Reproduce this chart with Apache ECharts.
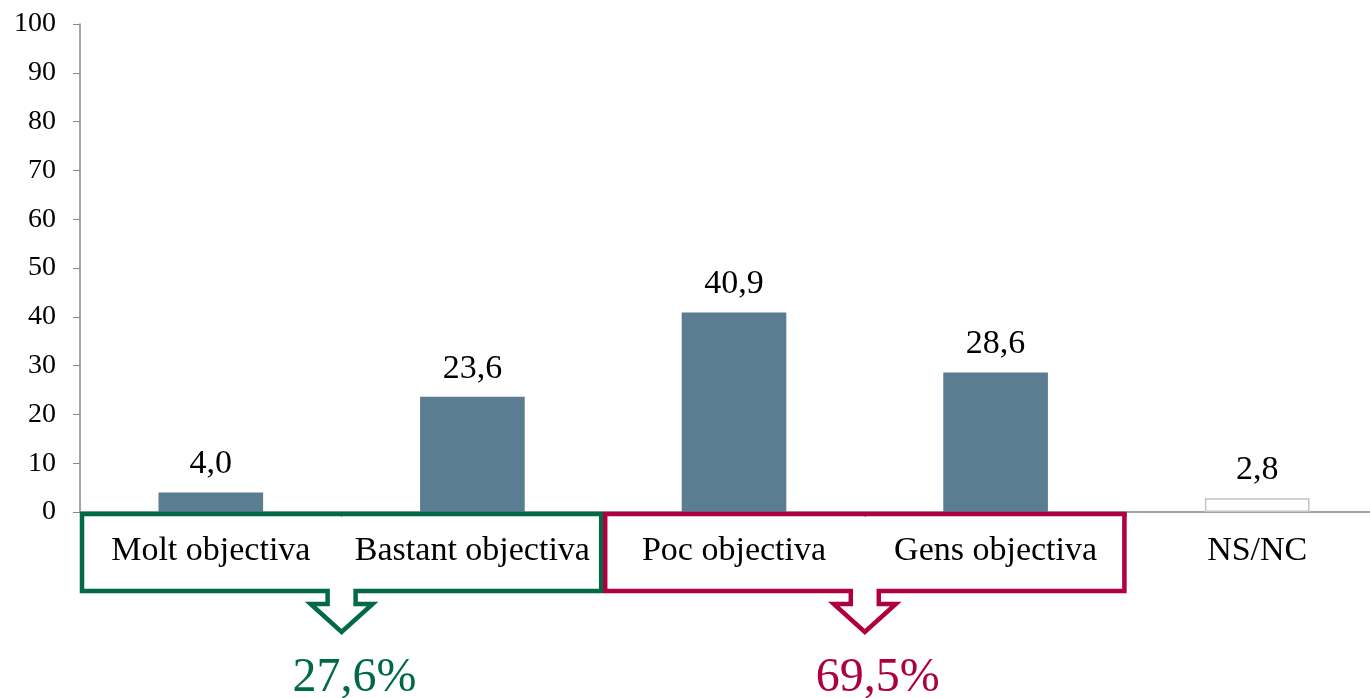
<!DOCTYPE html>
<html>
<head>
<meta charset="utf-8">
<script src="https://cdn.jsdelivr.net/npm/echarts@6/dist/echarts.min.js"></script>
<style>
  html, body { margin: 0; padding: 0; background: #fff; }
  #chart { width: 1370px; height: 698px; }
</style>
</head>
<body>
<div id="chart"></div>
<script>
const categories = ['Molt objectiva', 'Bastant objectiva', 'Poc objectiva', 'Gens objectiva', 'NS/NC']
const values = [4.0, 23.6, 40.9, 28.6, 2.8]
// summary boxes: first and last category index, label
const groupLabels = ['27,6%', '69,5%']
const groupFrom = [0, 2]
const groupTo = [1, 3]
const groupColors = ['#006a45', '#ae0040']

const FONT = 'Liberation Serif'
const barColor = '#5b7d91'

const chart = echarts.init(document.getElementById('chart'))

const barData = values.map((v, i) => {
  if (categories[i] === 'NS/NC') {
    return { value: v, itemStyle: { color: '#fff', borderColor: '#c4c4c4', borderWidth: 1.5 } }
  }
  return v
})

chart.setOption({
  animation: false,
  textStyle: { fontFamily: FONT },
  grid: { left: 80, top: 24, bottom: 186, width: 1308, outerBoundsMode: 'none', containLabel: false },
  xAxis: {
    type: 'category',
    data: categories,
    axisLine: { lineStyle: { color: '#888', width: 1.5 } },
    axisTick: { show: true, length: 5, lineStyle: { color: '#888' } },
    axisLabel: { color: '#000', fontSize: 34, margin: 22, interval: 0 },
  },
  yAxis: {
    type: 'value',
    min: 0,
    max: 100,
    interval: 10,
    splitLine: { show: false },
    axisLine: { show: true, lineStyle: { color: '#888', width: 1.5 } },
    axisTick: { show: true, length: 7, lineStyle: { color: '#888' } },
    axisLabel: { color: '#000', fontSize: 28, margin: 24 },
  },
  series: [
    {
      type: 'bar',
      data: barData,
      barWidth: '40%',
      itemStyle: { color: barColor },
      label: {
        show: true,
        position: 'top',
        distance: 11,
        color: '#000',
        fontSize: 34,
        fontFamily: FONT,
        formatter: (p) => p.value.toFixed(1).replace('.', ','),
      },
    },
  ],
})

// callout boxes with arrows, placed from the axis scale
function drawGroups() {
  const c0 = chart.convertToPixel({ xAxisIndex: 0 }, 0)
  const c1 = chart.convertToPixel({ xAxisIndex: 0 }, 1)
  const w = c1 - c0
  const zeroY = chart.convertToPixel({ yAxisIndex: 0 }, 0)
  const T = zeroY + 2
  const B = zeroY + 79
  const s = 14, h = 31, a = 13, d = 28
  const elements = []
  groupLabels.forEach((lab, g) => {
    const L = chart.convertToPixel({ xAxisIndex: 0 }, groupFrom[g]) - w / 2 + 2
    const R = chart.convertToPixel({ xAxisIndex: 0 }, groupTo[g]) + w / 2 - 2
    const cx = (L + R) / 2
    elements.push({
      type: 'polygon',
      shape: {
        points: [
          [L, T], [R, T], [R, B], [cx + s, B], [cx + s, B + a], [cx + h, B + a],
          [cx, B + a + d], [cx - h, B + a], [cx - s, B + a], [cx - s, B], [L, B],
        ],
      },
      style: { fill: 'none', stroke: groupColors[g], lineWidth: 4.5, lineJoin: 'miter' },
      z: 10,
    })
    elements.push({
      type: 'text',
      x: cx + 13,
      y: B + 87,
      style: {
        text: lab,
        fill: groupColors[g],
        font: '48px "' + FONT + '"',
        align: 'center',
        verticalAlign: 'middle',
      },
      z: 10,
    })
  })
  chart.setOption({ graphic: elements })
}
drawGroups()
</script>
</body>
</html>
